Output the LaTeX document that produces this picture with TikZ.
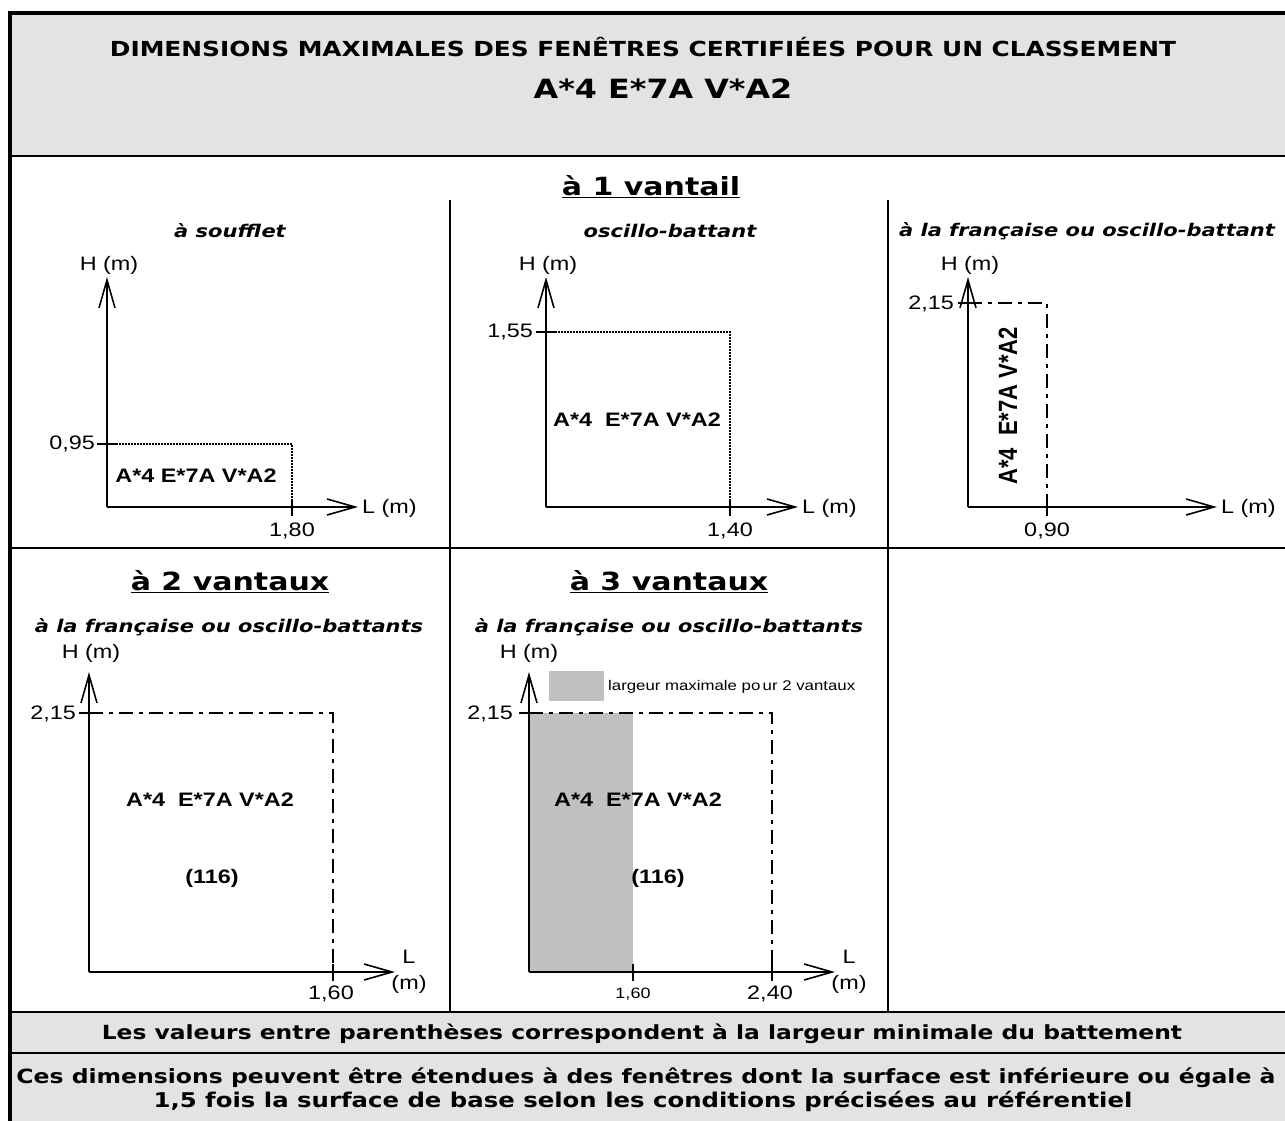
\documentclass[tikz,border=0pt]{standalone}
\usepackage{fontspec}
\usetikzlibrary{arrows.meta}
\newfontfamily\vfont[FakeStretch=1.2]{DejaVu Sans}
\newfontfamily\afont[FakeStretch=1.2]{Liberation Sans}
\newfontfamily\afontr{Liberation Sans}
\definecolor{hdrgray}{HTML}{E3E3E3}
\definecolor{fillgray}{HTML}{C0C0C0}
\tikzset{
  axis/.style={line width=1.6pt, -{Straight Barb[length=28pt,width=16pt,line width=1.6pt]}},
  tickln/.style={line width=1.6pt},
  dotbox/.style={line width=1.8pt, dash pattern=on 1.6pt off 1.4pt},
  dashdot/.style={line width=1.6pt, dash pattern=on 14pt off 6pt on 4pt off 6pt},
  lab/.style={font=\afont\fontsize{19.5}{22}\selectfont, inner sep=0pt},
  slab/.style={font=\afont\fontsize{15}{18}\selectfont, inner sep=0pt},
  leg/.style={font=\afont\fontsize{14}{16}\selectfont, inner sep=0pt},
  blab/.style={font=\afont\bfseries\fontsize{19.5}{22}\selectfont, inner sep=0pt},
  sub/.style={font=\vfont\bfseries\itshape\fontsize{17.5}{20}\selectfont, inner sep=0pt},
  head/.style={font=\vfont\bfseries\fontsize{25}{28}\selectfont, inner sep=0pt},
  note/.style={font=\vfont\bfseries\fontsize{19.5}{22}\selectfont, inner sep=0pt},
  notewide/.style={font=\vfont\bfseries\fontsize{20.3}{22}\selectfont, inner sep=0pt},
  gridln/.style={line width=2pt},
}
\begin{document}
\begin{tikzpicture}[x=1pt,y=-1pt]
\clip (0,0) rectangle (1285,1120);
\fill[white] (0,0) rectangle (1285,1120);
% gray bands
\fill[hdrgray] (10,13) rectangle (1300,156);
\fill[hdrgray] (10,1012) rectangle (1300,1130);
% frame and grid
\draw[line width=4pt] (10,1130) -- (10,13) -- (1300,13);
\draw[line width=2.5pt] (10,156) -- (1300,156);
\draw[gridln] (10,548) -- (1300,548);
\draw[line width=2.5pt] (10,1012) -- (1300,1012);
\draw[line width=2.5pt] (10,1053) -- (1300,1053);
\draw[gridln] (450,200) -- (450,1012);
\draw[gridln] (888,200) -- (888,1012);

% titles
\node[font=\vfont\bfseries\fontsize{20.7}{24}\selectfont, inner sep=0pt] (t1) at (643,47) {DIMENSIONS MAXIMALES DES FENÊTRES CERTIFIÉES POUR UN CLASSEMENT};
\node[font=\vfont\bfseries\fontsize{26.5}{30}\selectfont, inner sep=0pt] (t2) at (663,89) {A*4 E*7A V*A2};
\node[head] (h1) at (651,187) {\underline{à 1 vantail}};
\node[head] (h2) at (230,582) {\underline{à 2 vantaux}};
\node[head] (h3) at (669,582) {\underline{à 3 vantaux}};

% ---------- chart 1 : a soufflet
\node[sub] (s1) at (230,231) {à soufflet};
\coordinate (o1) at (107,507);
\coordinate (y1) at (107,277);
\coordinate (x1) at (358,507);
\coordinate (p1a) at (107,444);
\coordinate (p1b) at (292,444);
\coordinate (p1c) at (292,507);
\draw[dotbox] (p1a) -- (p1b) -- (p1c);
\draw[axis] (o1) -- (y1);
\draw[axis] (o1) -- (x1);
\draw[tickln] (97,444) -- (117,444);
\draw[tickln] (292,499) -- (292,516);
\node[lab, anchor=east] (v1) at (95,444) {0,95};
\node[lab] (w1) at (292,531) {1,80};
\node[lab] (hy1) at (109,265) {H (m)};
\node[lab, anchor=west] (lx1) at (362,508) {L (m)};
\node[blab] (c1) at (196,476) {A*4 E*7A V*A2};

% ---------- chart 2 : oscillo-battant
\node[sub] (s2) at (670,231) {oscillo-battant};
\coordinate (o2) at (546,507);
\coordinate (y2) at (546,277);
\coordinate (x2) at (798,507);
\coordinate (p2a) at (546,332);
\coordinate (p2b) at (730,332);
\coordinate (p2c) at (730,507);
\draw[dotbox] (p2a) -- (p2b) -- (p2c);
\draw[axis] (o2) -- (y2);
\draw[axis] (o2) -- (x2);
\draw[tickln] (536,332) -- (556,332);
\draw[tickln] (730,499) -- (730,516);
\node[lab, anchor=east] (v2) at (533,332) {1,55};
\node[lab] (w2) at (730,531) {1,40};
\node[lab] (hy2) at (548,265) {H (m)};
\node[lab, anchor=west] (lx2) at (802,508) {L (m)};
\node[blab] (c2) at (637,420) {A*4~~E*7A V*A2};

% ---------- chart 3 : a la francaise ou oscillo-battant
\node[sub] (s3) at (1087,231) {à la française ou oscillo-battant};
\coordinate (o3) at (968,507);
\coordinate (y3) at (968,277);
\coordinate (x3) at (1217,507);
\coordinate (p3a) at (968,303);
\coordinate (p3b) at (1047,303);
\coordinate (p3c) at (1047,507);
\draw[dashdot] (p3a) -- (p3b) -- (p3c);
\draw[axis] (o3) -- (y3);
\draw[axis] (o3) -- (x3);
\draw[tickln] (958,303) -- (978,303);
\draw[tickln] (1047,499) -- (1047,516);
\node[lab, anchor=east] (v3) at (954,304) {2,15};
\node[lab] (w3) at (1047,531) {0,90};
\node[lab] (hy3) at (970,265) {H (m)};
\node[lab, anchor=west] (lx3) at (1221,508) {L (m)};
\node[inner sep=0pt] (c3) at (1008,406) {\scalebox{1.2}[1]{\rotatebox{90}{\afontr\bfseries\fontsize{22}{24}\selectfont A*4~~E*7A V*A2}}};

% ---------- chart 4 : a 2 vantaux
\node[sub] (s4) at (229,627) {à la française ou oscillo-battants};
\coordinate (o4) at (89,972);
\coordinate (y4) at (89,672);
\coordinate (x4) at (395,972);
\coordinate (p4a) at (89,713);
\coordinate (p4b) at (333,713);
\coordinate (p4c) at (333,972);
\draw[dashdot] (p4a) -- (p4b) -- (p4c);
\draw[axis] (o4) -- (y4);
\draw[axis] (o4) -- (x4);
\draw[tickln] (79,713) -- (99,713);
\draw[tickln] (333,964) -- (333,981);
\node[lab, anchor=east] (v4) at (76,714) {2,15};
\node[lab] (w4) at (331,994) {1,60};
\node[lab] (hy4) at (91,653) {H (m)};
\node[lab] (lx4) at (409,957) {L};
\node[lab] (mx4) at (409,984) {(m)};
\node[blab] (c4) at (210,800) {A*4~~E*7A V*A2};
\node[blab] (d4) at (212,878) {(116)};

% ---------- chart 5 : a 3 vantaux
\node[sub] (s5) at (669,627) {à la française ou oscillo-battants};
\fill[fillgray] (529,713) rectangle (633,972);
\node[fill=fillgray, minimum width=55pt, minimum height=30pt, inner sep=0pt] (g5) at (576.5,686) {};
\node[leg, anchor=west] (gl5) at (608,687) {largeur maximale po\,ur 2 vantaux};
\coordinate (o5) at (529,972);
\coordinate (y5) at (529,672);
\coordinate (x5) at (835,972);
\coordinate (p5a) at (529,713);
\coordinate (p5b) at (772,713);
\coordinate (p5c) at (772,972);
\draw[dashdot] (p5a) -- (p5b) -- (p5c);
\draw[axis] (o5) -- (y5);
\draw[axis] (o5) -- (x5);
\draw[tickln] (519,713) -- (539,713);
\draw[tickln] (633,964) -- (633,981);
\draw[tickln] (772,964) -- (772,981);
\node[lab, anchor=east] (v5) at (513,714) {2,15};
\node[slab] (w5) at (633,994) {1,60};
\node[lab] (w5b) at (770,994) {2,40};
\node[lab] (hy5) at (529,653) {H (m)};
\node[lab] (lx5) at (849,957) {L};
\node[lab] (mx5) at (849,984) {(m)};
\node[blab] (c5) at (638,800) {A*4~~E*7A V*A2};
\node[blab] (d5) at (658,878) {(116)};

% ---------- notes
\node[note] (n1) at (642,1034) {Les valeurs entre parenthèses correspondent à la largeur minimale du battement};
\node[font=\vfont\bfseries\fontsize{19.6}{22}\selectfont, inner sep=0pt] (n2) at (646,1078) {Ces dimensions peuvent être étendues à des fenêtres dont la surface est inférieure ou égale à};
\node[notewide] (n3) at (643,1101) {1,5 fois la surface de base selon les conditions précisées au référentiel};
\end{tikzpicture}
\end{document}
